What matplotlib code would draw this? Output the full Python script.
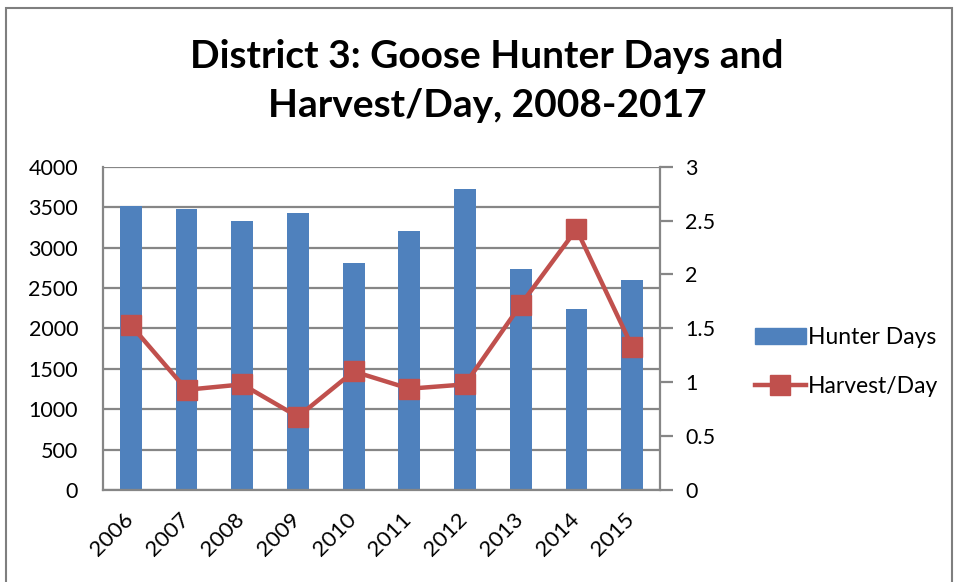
import matplotlib
matplotlib.use("Agg")
import matplotlib.pyplot as plt
from matplotlib.patches import Rectangle
from matplotlib.lines import Line2D

# data
years = ['2006', '2007', '2008', '2009', '2010', '2011', '2012', '2013', '2014', '2015']
hunter_days = [3515, 3473, 3328, 3423, 2805, 3204, 3724, 2730, 2235, 2598]
harvest_per_day = [1.53, 0.93, 0.98, 0.68, 1.10, 0.94, 0.98, 1.72, 2.42, 1.33]

bar_color = '#4F81BD'
line_color = '#C0504D'
grid_color = '#868686'

plt.rcParams['font.family'] = ['Lato', 'DejaVu Sans']

fig = plt.figure(figsize=(9.55, 5.82), dpi=100)
fig.patches.append(Rectangle((6 / 955, -0.1), 946 / 955, 1 - 8 / 582 + 0.1,
                             transform=fig.transFigure, fill=False,
                             edgecolor='#7F7F7F', linewidth=1.5))

ax = fig.add_axes([103 / 955, 1 - 490 / 582, 557 / 955, (490 - 166.7) / 582])
x = list(range(len(years)))
ax.bar(x, hunter_days, width=0.39, color=bar_color, label='Hunter Days', zorder=2)
ax.set_ylim(0, 4000)
ax.set_yticks(range(0, 4001, 500))
ax.set_xlim(-0.5, len(years) - 0.5)
# ticks are invisible, so sit them a touch left of the bars to place the
# rotated year labels the way the original does
ax.set_xticks([i - 0.14 for i in x])
ax.set_xticklabels(years, rotation=45, ha='right', rotation_mode='anchor')
ax.yaxis.grid(True, color=grid_color, linewidth=1.6, zorder=0)
ax.set_axisbelow(True)
ax.tick_params(axis='y', length=0, labelsize=15.5, pad=18)
ax.tick_params(axis='x', length=0, labelsize=16, pad=14)
for s in ['top', 'right']:
    ax.spines[s].set_visible(False)
for s in ['left', 'bottom']:
    ax.spines[s].set_color(grid_color)
    ax.spines[s].set_linewidth(1.6)

ax2 = ax.twinx()
ax2.plot(x, harvest_per_day, color=line_color, linewidth=3.2, marker='s',
         markersize=15, label='Harvest/Day', zorder=3)
ax2.set_ylim(0, 3)
ax2.set_yticks([0, 0.5, 1, 1.5, 2, 2.5, 3])
ax2.set_yticklabels(['0', '0.5', '1', '1.5', '2', '2.5', '3'])
ax2.tick_params(axis='y', length=9, width=1.6, color=grid_color, labelsize=15.5, pad=9)
for s in ['top', 'left', 'bottom']:
    ax2.spines[s].set_visible(False)
ax2.spines['right'].set_color(grid_color)
ax2.spines['right'].set_linewidth(1.6)

fig.text(487 / 955, 1 - 81 / 582, 'District 3: Goose Hunter Days and\nHarvest/Day, 2008-2017',
         ha='center', va='center', fontsize=28, fontweight='bold', linespacing=1.45)

handles = [Rectangle((0, 0), 1, 1, color=bar_color),
           Line2D([0], [0], color=line_color, linewidth=3.2, marker='s', markersize=15)]
fig.legend(handles, ['Hunter Days', 'Harvest/Day'], loc='center left',
           bbox_to_anchor=(746 / 955, 1 - 362 / 582), frameon=False, fontsize=16.5,
           handlelength=2.2, handletextpad=0.1, labelspacing=1.25, borderaxespad=0)

fig.savefig('out.png', dpi=100)
